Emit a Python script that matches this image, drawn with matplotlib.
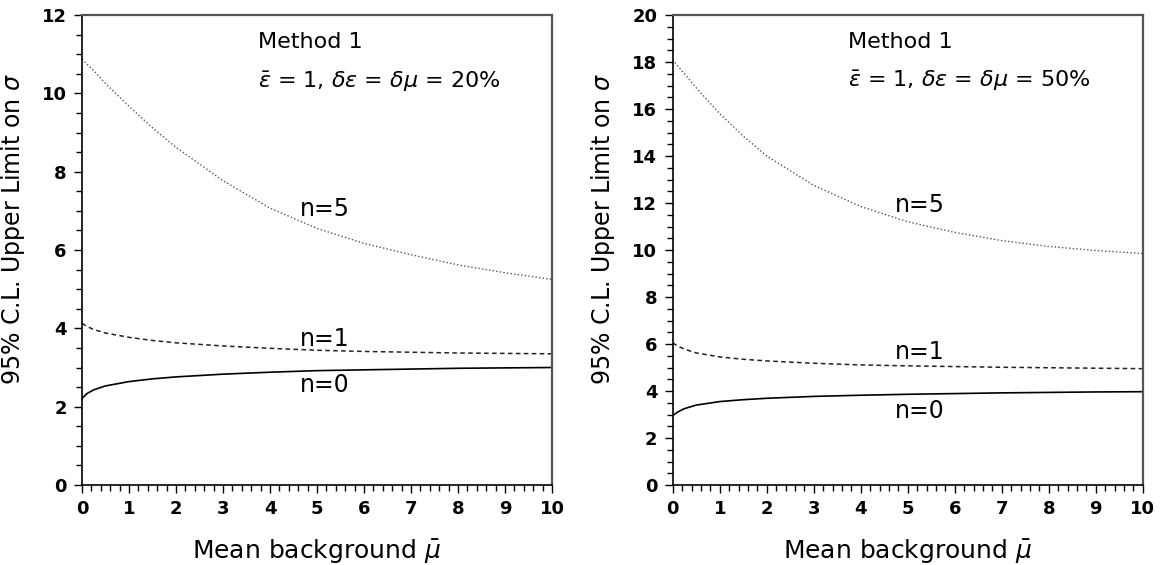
import matplotlib
matplotlib.use("Agg")
import matplotlib.pyplot as plt
from matplotlib.ticker import MultipleLocator

# ---------------- data ----------------
mu_bkg = [0, 0.1, 0.25, 0.5, 1, 1.5, 2, 3, 4, 5, 6, 7, 8, 9, 10]

# Left panel: delta_eps = delta_mu = 20%
n0_20 = [2.21, 2.33, 2.43, 2.53, 2.64, 2.71, 2.76, 2.83, 2.88, 2.92, 2.94, 2.96, 2.98, 2.99, 3.00]
n1_20 = [4.13, 4.05, 3.97, 3.88, 3.77, 3.69, 3.63, 3.55, 3.49, 3.44, 3.41, 3.39, 3.37, 3.36, 3.35]
n5_20 = [10.87, 10.75, 10.58, 10.25, 9.67, 9.12, 8.62, 7.77, 7.07, 6.55, 6.17, 5.88, 5.62, 5.42, 5.25]

# Right panel: delta_eps = delta_mu = 50%
n0_50 = [2.95, 3.10, 3.25, 3.40, 3.55, 3.63, 3.69, 3.77, 3.82, 3.86, 3.89, 3.92, 3.94, 3.96, 3.97]
n1_50 = [6.05, 5.92, 5.78, 5.62, 5.45, 5.35, 5.28, 5.18, 5.11, 5.07, 5.04, 5.01, 4.99, 4.97, 4.95]
n5_50 = [18.10, 17.85, 17.50, 16.90, 15.80, 14.85, 14.00, 12.75, 11.85, 11.20, 10.75, 10.40, 10.15, 9.98, 9.85]

curve_labels = ["n=0", "n=1", "n=5"]
panel_titles = ["Method 1", "Method 1"]
panel_subtitles = [r"$\bar{\varepsilon}$ = 1, $\delta\varepsilon$ = $\delta\mu$ = 20%",
                   r"$\bar{\varepsilon}$ = 1, $\delta\varepsilon$ = $\delta\mu$ = 50%"]
xlabel = r"Mean background $\bar{\mu}$"
ylabel = r"95% C.L. Upper Limit on $\sigma$"

# ---------------- figure ----------------
plt.rcParams['font.family'] = ['DejaVu Sans']
plt.rcParams['mathtext.fontset'] = 'dejavusans'

fig = plt.figure(figsize=(11.63, 5.65), dpi=100)
W, H = 1163, 565
ax1 = fig.add_axes([82 / W, (565 - 485) / H, 470 / W, 470 / H])
ax2 = fig.add_axes([672.7 / W, (565 - 485) / H, 470 / W, 470 / H])

panels = [
    (ax1, [n0_20, n1_20, n5_20], 12, [(5.17, 2.55), (5.17, 3.72), (5.17, 7.05)], (3.74, 11.3), (3.74, 10.3)),
    (ax2, [n0_50, n1_50, n5_50], 20, [(5.26, 3.15), (5.26, 5.65), (5.26, 11.9)], (3.74, 18.85), (3.74, 17.2)),
]

styles = [
    dict(color='black', lw=1.2, ls='-'),
    dict(color='#222222', lw=1.1, ls=(0, (3, 2.2))),
    dict(color='#555555', lw=1.0, ls=(0, (1, 1.6))),
]

for i, (ax, series, ymax, lab_pos, t_pos, s_pos) in enumerate(panels):
    for ys, st in zip(series, styles):
        ax.plot(mu_bkg, ys, **st)
    for lab, (lx, ly) in zip(curve_labels, lab_pos):
        ax.text(lx, ly, lab, ha='center', va='center', fontsize=17)
    ax.text(t_pos[0], t_pos[1], panel_titles[i], ha='left', va='center', fontsize=16)
    ax.text(s_pos[0], s_pos[1], panel_subtitles[i], ha='left', va='center', fontsize=16)

    ax.set_xlim(0, 10)
    ax.set_ylim(0, ymax)
    ax.xaxis.set_major_locator(MultipleLocator(1))
    ax.xaxis.set_minor_locator(MultipleLocator(0.2))
    ax.yaxis.set_major_locator(MultipleLocator(2))
    ax.yaxis.set_minor_locator(MultipleLocator(0.5))
    ax.tick_params(which='both', direction='out', top=False, right=False,
                   width=1.0, color='black')
    ax.tick_params(which='major', length=6, labelsize=13, pad=5)
    ax.tick_params(which='minor', length=4)
    for lbl in ax.get_xticklabels() + ax.get_yticklabels():
        lbl.set_fontweight('bold')
    for side in ['left', 'bottom']:
        ax.spines[side].set_color('black')
        ax.spines[side].set_linewidth(1.2)
    for side in ['top', 'right']:
        ax.spines[side].set_color('#555555')
        ax.spines[side].set_linewidth(1.6)
    ax.set_xlabel(xlabel, fontsize=18, labelpad=14)
    ax.set_ylabel(ylabel, fontsize=17)
    ax.yaxis.set_label_coords(-0.118, 0.545)

fig.savefig("out.png", dpi=100)
